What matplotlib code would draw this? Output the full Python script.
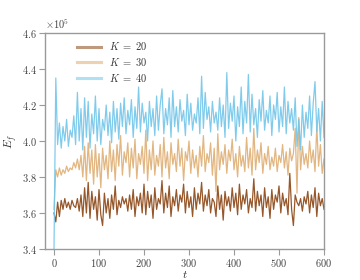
#!/usr/bin/env python3
"""Energia E_f ao longo do tempo para K = 20, 30, 40."""

import numpy as np
import matplotlib
matplotlib.use("Agg")
import matplotlib.pyplot as plt

# valores em unidades de 1e5, amostrados de t = 0 a t = 600
K20 = [
    3.60, 3.55, 3.66, 3.58, 3.67, 3.62, 3.68, 3.63, 3.66, 3.62,
    3.67, 3.64, 3.63, 3.68, 3.61, 3.70, 3.58, 3.74, 3.60, 3.77,
    3.57, 3.72, 3.62, 3.69, 3.56, 3.73, 3.59, 3.53, 3.71, 3.60,
    3.68, 3.57, 3.70, 3.62, 3.75, 3.59, 3.67, 3.63, 3.69, 3.65,
    3.68, 3.61, 3.70, 3.62, 3.73, 3.58, 3.69, 3.64, 3.71, 3.60,
    3.76, 3.59, 3.72, 3.63, 3.70, 3.57, 3.74, 3.62, 3.68, 3.65,
    3.78, 3.60, 3.71, 3.63, 3.75, 3.58, 3.69, 3.64, 3.73, 3.61,
    3.70, 3.66, 3.76, 3.60, 3.72, 3.63, 3.69, 3.58, 3.74, 3.62,
    3.71, 3.65, 3.77, 3.61, 3.70, 3.64, 3.73, 3.60, 3.68, 3.66,
    3.58, 3.75, 3.62, 3.70, 3.56, 3.72, 3.64, 3.69, 3.61, 3.74,
    3.63, 3.71, 3.59, 3.76, 3.62, 3.70, 3.65, 3.73, 3.60, 3.68,
    3.63, 3.79, 3.61, 3.72, 3.64, 3.70, 3.58, 3.74, 3.63, 3.69,
    3.57, 3.73, 3.62, 3.70, 3.66, 3.75, 3.60, 3.71, 3.64, 3.68,
    3.59, 3.82, 3.62, 3.53, 3.70, 3.66, 3.64, 3.68, 3.61, 3.69,
    3.65, 3.72, 3.60, 3.70, 3.63, 3.74, 3.58, 3.71, 3.64, 3.68,
    3.62,
]

K30 = [
    3.62, 3.84, 3.80, 3.85, 3.81, 3.84, 3.82, 3.86, 3.83, 3.85,
    3.84, 3.88, 3.85, 3.90, 3.84, 3.92, 3.80, 3.97, 3.78, 3.99,
    3.82, 3.95, 3.76, 3.98, 3.80, 3.93, 3.74, 3.96, 3.84, 3.92,
    3.79, 4.00, 3.83, 3.95, 3.78, 3.98, 3.86, 4.03, 3.81, 3.94,
    3.88, 3.99, 3.80, 3.96, 3.85, 4.01, 3.79, 3.93, 3.87, 3.97,
    3.82, 4.06, 3.78, 3.95, 3.84, 4.00, 3.81, 3.92, 3.86, 3.98,
    3.80, 4.02, 3.85, 3.94, 3.79, 3.99, 3.87, 3.93, 3.83, 4.01,
    3.86, 3.96, 3.78, 3.94, 3.89, 4.00, 3.82, 3.95, 3.85, 3.92,
    3.80, 3.97, 3.86, 4.03, 3.83, 3.93, 3.88, 3.99, 3.81, 3.96,
    3.72, 4.04, 3.84, 3.94, 3.87, 3.98, 3.82, 3.95, 3.89, 4.01,
    3.84, 3.93, 3.80, 3.97, 3.86, 3.92, 3.83, 4.02, 3.85, 3.96,
    3.81, 4.07, 3.84, 3.95, 3.88, 3.99, 3.82, 3.93, 3.87, 3.97,
    3.84, 3.91, 3.86, 3.96, 3.83, 3.92, 3.88, 3.98, 3.85, 3.94,
    3.81, 3.96, 3.89, 3.93, 4.07, 3.71, 4.13, 3.84, 3.97, 3.87,
    3.93, 3.85, 4.00, 3.88, 3.95, 3.83, 4.08, 3.86, 3.98, 3.82,
    3.90,
]

K40 = [
    3.40, 4.35, 3.98, 4.10, 3.96, 4.08, 4.00, 4.12, 3.97, 4.06,
    4.02, 4.14, 3.98, 4.27, 4.00, 4.18, 3.95, 4.24, 4.02, 4.22,
    3.96, 4.15, 4.04, 4.25, 4.00, 4.18, 3.98, 4.12, 4.06, 4.20,
    4.03, 4.16, 3.99, 4.22, 4.05, 4.18, 4.01, 4.21, 4.08, 4.24,
    4.04, 4.17, 4.09, 4.23, 4.02, 4.19, 4.07, 4.30, 4.05, 4.21,
    4.10, 4.16, 4.00, 4.22, 4.08, 4.18, 4.03, 4.25, 4.06, 4.20,
    4.29, 4.04, 4.18, 4.09, 4.24, 4.02, 4.28, 4.08, 4.19, 4.05,
    4.23, 4.11, 4.17, 4.03, 4.26, 4.09, 4.21, 4.06, 4.15, 4.10,
    4.24, 4.04, 4.36, 4.07, 4.27, 4.12, 4.19, 4.05, 4.22, 4.10,
    4.16, 4.06, 4.24, 4.08, 4.20, 4.02, 4.38, 4.07, 4.21, 4.11,
    4.25, 4.00, 4.19, 4.08, 4.30, 4.04, 4.22, 4.10, 4.37, 4.05,
    4.26, 4.09, 4.18, 4.02, 4.23, 4.11, 4.28, 4.06, 4.17, 4.10,
    4.25, 4.03, 4.20, 4.12, 4.27, 4.05, 4.19, 4.08, 4.30, 4.04,
    4.22, 4.10, 4.18, 4.06, 4.24, 3.97, 4.12, 3.95, 4.20, 4.02,
    4.16, 4.07, 4.25, 4.03, 4.21, 4.33, 4.05, 4.18, 4.00, 4.22,
    4.02,
]

LABELS = [r"$K\ =\ 20$", r"$K\ =\ 30$", r"$K\ =\ 40$"]
COLORS = ["#8B4513", "#DFAE72", "#72C6EA"]
T_END = 600

plt.rcParams["font.family"] = "cmr10"
plt.rcParams["mathtext.fontset"] = "cm"
plt.rcParams["axes.formatter.use_mathtext"] = True
plt.rcParams["axes.unicode_minus"] = False

GRID = "#9a9a9a"

fig = plt.figure(figsize=(3.6, 2.8), dpi=100)
ax = fig.add_axes([0.125, 0.111, 0.775, 0.771])

for values, label, color in zip([K20, K30, K40], LABELS, COLORS):
    y = np.array(values) * 1e5
    t = np.linspace(0, T_END, len(y))
    ax.plot(t, y, color=color, lw=0.9, alpha=0.9, label=label)

ax.set_xlim(-20, 600)
ax.set_ylim(3.4e5, 4.6e5)
ax.set_xticks([0, 100, 200, 300, 400, 500, 600])
ax.set_yticks(np.array([3.4, 3.6, 3.8, 4.0, 4.2, 4.4, 4.6]) * 1e5)
ax.ticklabel_format(axis="y", style="sci", scilimits=(0, 0), useOffset=False)

for side in ["left", "bottom", "top", "right"]:
    ax.spines[side].set_color(GRID)
    ax.spines[side].set_linewidth(1.0)
ax.tick_params(colors=GRID, labelcolor="#444444", labelsize=7.5,
               length=4, width=0.8, direction="out", pad=2)
ax.yaxis.get_offset_text().set_fontsize(7.5)
ax.yaxis.get_offset_text().set_color("#444444")

ax.set_xlabel("$t$", fontsize=8.5, color="#333333", labelpad=0)
ax.set_ylabel("$E_f$", fontsize=8.5, color="#333333", labelpad=2)

leg = ax.legend(loc="upper left", bbox_to_anchor=(0.08, 1.01), frameon=False,
                fontsize=7.5, handlelength=2.3, labelspacing=0.35)
for line in leg.get_lines():
    line.set_linewidth(2.2)
    line.set_alpha(0.55)
for text in leg.get_texts():
    text.set_color("#333333")

fig.savefig("out.png", dpi=100)
